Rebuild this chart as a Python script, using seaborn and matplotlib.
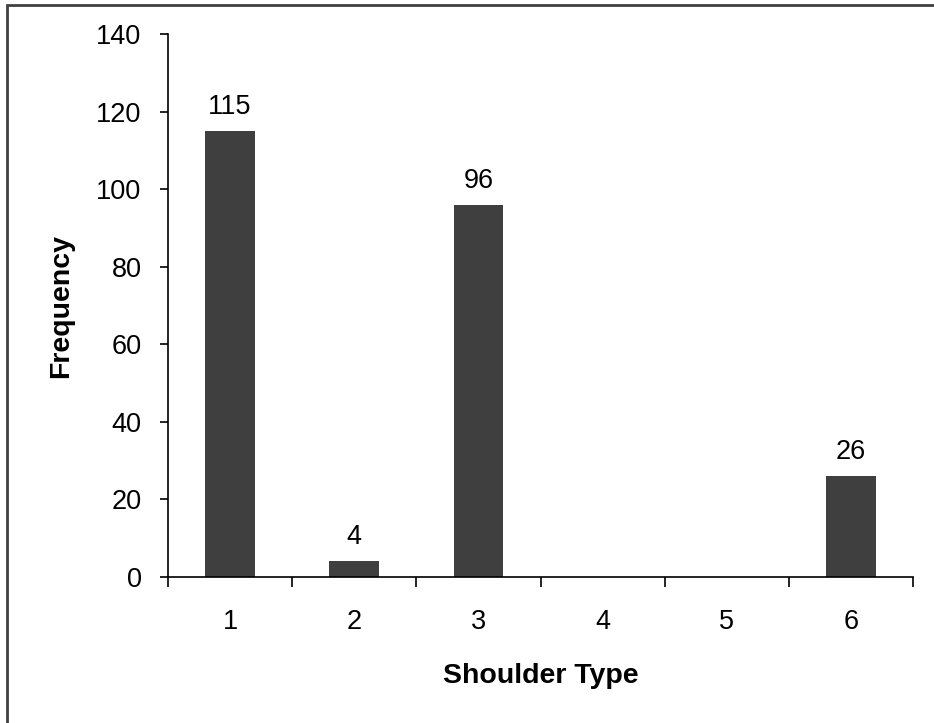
import matplotlib
matplotlib.use("Agg")
import matplotlib.pyplot as plt
from matplotlib.patches import Rectangle
import seaborn as sns
import pandas as pd

# Frequency of each shoulder type
shoulder_types = ["1", "2", "3", "4", "5", "6"]
frequencies = [115, 4, 96, 0, 0, 26]
y_ticks = [0, 20, 40, 60, 80, 100, 120, 140]

sns.set_theme(style="white")
plt.rcParams["font.family"] = ["Liberation Sans", "DejaVu Sans"]

df = pd.DataFrame({"Shoulder Type": shoulder_types, "Frequency": frequencies})

W, H = 934, 723
fig = plt.figure(figsize=(W / 100, H / 100), dpi=100)
fig.patch.set_facecolor("white")

left, right, top, bottom = 168, 913, 34, 577
ax = fig.add_axes([left / W, 1 - bottom / H, (right - left) / W, (bottom - top) / H])

bar_color = "#3f3f3f"
sns.barplot(data=df, x="Shoulder Type", y="Frequency", color=bar_color,
            width=0.4, saturation=1, ax=ax, edgecolor="none")

ax.set_xlim(-0.5, len(shoulder_types) - 0.5)
ax.set_ylim(0, 140)
ax.set_yticks(y_ticks)

FS = 19.5

# value labels above non-zero bars
for i, v in enumerate(frequencies):
    if v > 0:
        ax.annotate(str(v), xy=(i, v), xytext=(0, 8), textcoords="offset points",
                    ha="center", va="bottom", fontsize=FS, color="black")

for side in ["top", "right"]:
    ax.spines[side].set_visible(False)
for side in ["left", "bottom"]:
    ax.spines[side].set_color("black")
    ax.spines[side].set_linewidth(1.2)

# category ticks sit between the bars, labels at bar centres
ax.set_xticks([i - 0.5 for i in range(len(shoulder_types) + 1)], minor=False)
ax.set_xticklabels([])
ax.set_xticks(range(len(shoulder_types)), minor=True)
ax.set_xticklabels(shoulder_types, minor=True)
ax.tick_params(axis="x", which="major", direction="out", length=7.5, width=1.2,
               color="black", bottom=True)
ax.tick_params(axis="x", which="minor", length=0, labelsize=FS, pad=23,
               labelcolor="black")
ax.tick_params(axis="y", direction="out", length=6, width=1.2, color="black",
               left=True, labelsize=FS, pad=13, labelcolor="black")

ax.set_xlabel("Shoulder Type", fontsize=20.5, fontweight="bold", labelpad=20,
              color="black")
ax.set_ylabel("Frequency", fontsize=20.5, fontweight="bold", labelpad=16,
              color="black")

# chart frame (open on the right and bottom)
fig.patches.append(Rectangle((7 / W, -0.1), 1.2, 1 - 5 / H + 0.1,
                             transform=fig.transFigure, fill=False,
                             edgecolor="#404040", linewidth=2))

fig.savefig("out.png", dpi=100)
